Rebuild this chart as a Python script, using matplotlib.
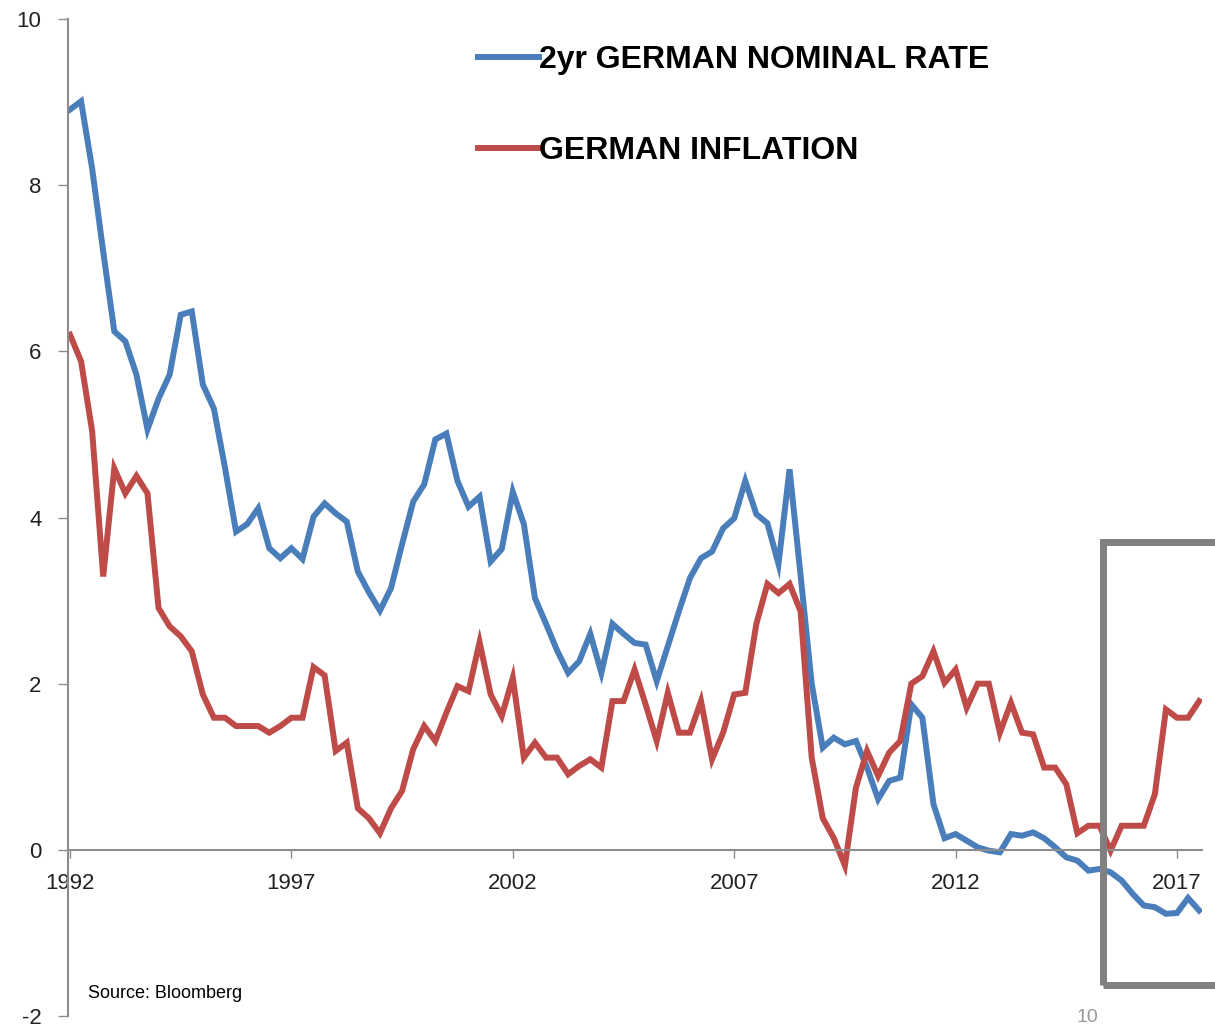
import numpy as np
import matplotlib.pyplot as plt
from matplotlib.patches import Rectangle

plt.rcParams['font.family'] = ['Liberation Sans', 'DejaVu Sans']
plt.rcParams['axes.unicode_minus'] = False

# quarterly readings, 1992 Q1 onwards
nominal_2yr = [8.91, 9.01, 8.2, 7.2, 6.24, 6.12, 5.72, 5.06, 5.43, 5.72,
               6.44, 6.48, 5.6, 5.31, 4.6, 3.83, 3.92, 4.11, 3.63, 3.51,
               3.63, 3.50, 4.01, 4.17, 4.05, 3.95, 3.35, 3.1, 2.88, 3.15,
               3.68, 4.19, 4.40, 4.94, 5.01, 4.44, 4.13, 4.25, 3.47, 3.62,
               4.31, 3.92, 3.03, 2.72, 2.4, 2.13, 2.27, 2.6, 2.13, 2.72,
               2.6, 2.49, 2.47, 2.03, 2.45, 2.87, 3.27, 3.51, 3.59, 3.87,
               3.99, 4.44, 4.04, 3.93, 3.44, 4.58, 3.3, 2.0, 1.23, 1.35,
               1.27, 1.31, 0.99, 0.61, 0.83, 0.87, 1.75, 1.59, 0.55, 0.14,
               0.19, 0.11, 0.03, -0.01, -0.03, 0.19, 0.17, 0.21, 0.14, 0.03,
               -0.09, -0.13, -0.25, -0.23, -0.27, -0.37, -0.53, -0.67, -0.69, -0.77,
               -0.76, -0.58, -0.73]
inflation = [6.2, 5.88, 5.04, 3.29, 4.59, 4.29, 4.5, 4.29, 2.91, 2.69,
             2.57, 2.39, 1.87, 1.59, 1.59, 1.49, 1.49, 1.49, 1.41, 1.49,
             1.59, 1.59, 2.2, 2.1, 1.19, 1.29, 0.5, 0.38, 0.2, 0.5,
             0.71, 1.21, 1.49, 1.31, 1.65, 1.97, 1.91, 2.5, 1.87, 1.61,
             2.07, 1.11, 1.29, 1.11, 1.11, 0.91, 1.01, 1.09, 0.99, 1.79,
             1.79, 2.17, 1.75, 1.31, 1.89, 1.41, 1.41, 1.79, 1.09, 1.41,
             1.87, 1.89, 2.72, 3.2, 3.09, 3.2, 2.87, 1.11, 0.38, 0.14,
             -0.19, 0.75, 1.19, 0.89, 1.17, 1.31, 2.0, 2.09, 2.39, 2.01,
             2.17, 1.71, 2.0, 2.0, 1.41, 1.77, 1.41, 1.39, 0.99, 0.99,
             0.79, 0.2, 0.29, 0.29, -0.01, 0.29, 0.29, 0.29, 0.67, 1.69,
             1.59, 1.59, 1.79]
year_ticks = [1992, 1997, 2002, 2007, 2012, 2017]
y_ticks = [-2, 0, 2, 4, 6, 8, 10]

W, H = 1215, 1028
fig = plt.figure(figsize=(W / 100, H / 100), dpi=100)
ax = fig.add_axes([68 / W, 12 / H, (1202 - 68) / W, 997 / H])

dates = 1992 + np.arange(len(nominal_2yr)) / 4

ax.plot(dates, nominal_2yr, color='#4a7ebb', lw=4.3, label='2yr GERMAN NOMINAL RATE',
        solid_joinstyle='miter')
ax.plot(dates, inflation, color='#be4b48', lw=4.3, label='GERMAN INFLATION',
        solid_joinstyle='miter')

px_per_year = 44.28
ax.set_xlim(1992 - 2 / px_per_year, 1992 + 1132 / px_per_year)
ax.set_ylim(-2, 10)
ax.set_xticks(year_ticks)
ax.set_yticks(y_ticks)

for s in ['top', 'right']:
    ax.spines[s].set_visible(False)
ax.spines['left'].set_color('#8c8c8c')
ax.spines['bottom'].set_color('#8c8c8c')
ax.spines['left'].set_linewidth(1.5)
ax.spines['bottom'].set_linewidth(1.5)
ax.spines['bottom'].set_position(('data', 0))

ax.tick_params(axis='y', direction='out', length=7, width=1, color='#8c8c8c',
               pad=12, labelsize=16, labelcolor='#222222')
ax.tick_params(axis='x', direction='out', length=6, width=1, color='#8c8c8c',
               pad=11, labelsize=16, labelcolor='#222222')

ax.legend(frameon=False, loc='upper left', bbox_to_anchor=(478 / W, 1 - 45 / H),
          bbox_transform=fig.transFigure, prop=dict(weight='bold', size=23),
          handlelength=1.9, handletextpad=0.0, labelspacing=1.9,
          borderpad=0, borderaxespad=0)

fig.text(88 / W, 1 - 993 / H, 'Source: Bloomberg', fontsize=13, va='center')

# highlight box at the right edge
fig.add_artist(Rectangle((1103 / W, (H - 985) / H), (1240 - 1103) / W, (985 - 542) / H,
                         transform=fig.transFigure, fill=False, ec='#808080',
                         lw=5, zorder=10, clip_on=False))

# page number at the bottom edge
fig.text(1076 / W, 2 / H, '10', fontsize=14, color='#999999', va='bottom')

fig.savefig('out.png', dpi=100)
